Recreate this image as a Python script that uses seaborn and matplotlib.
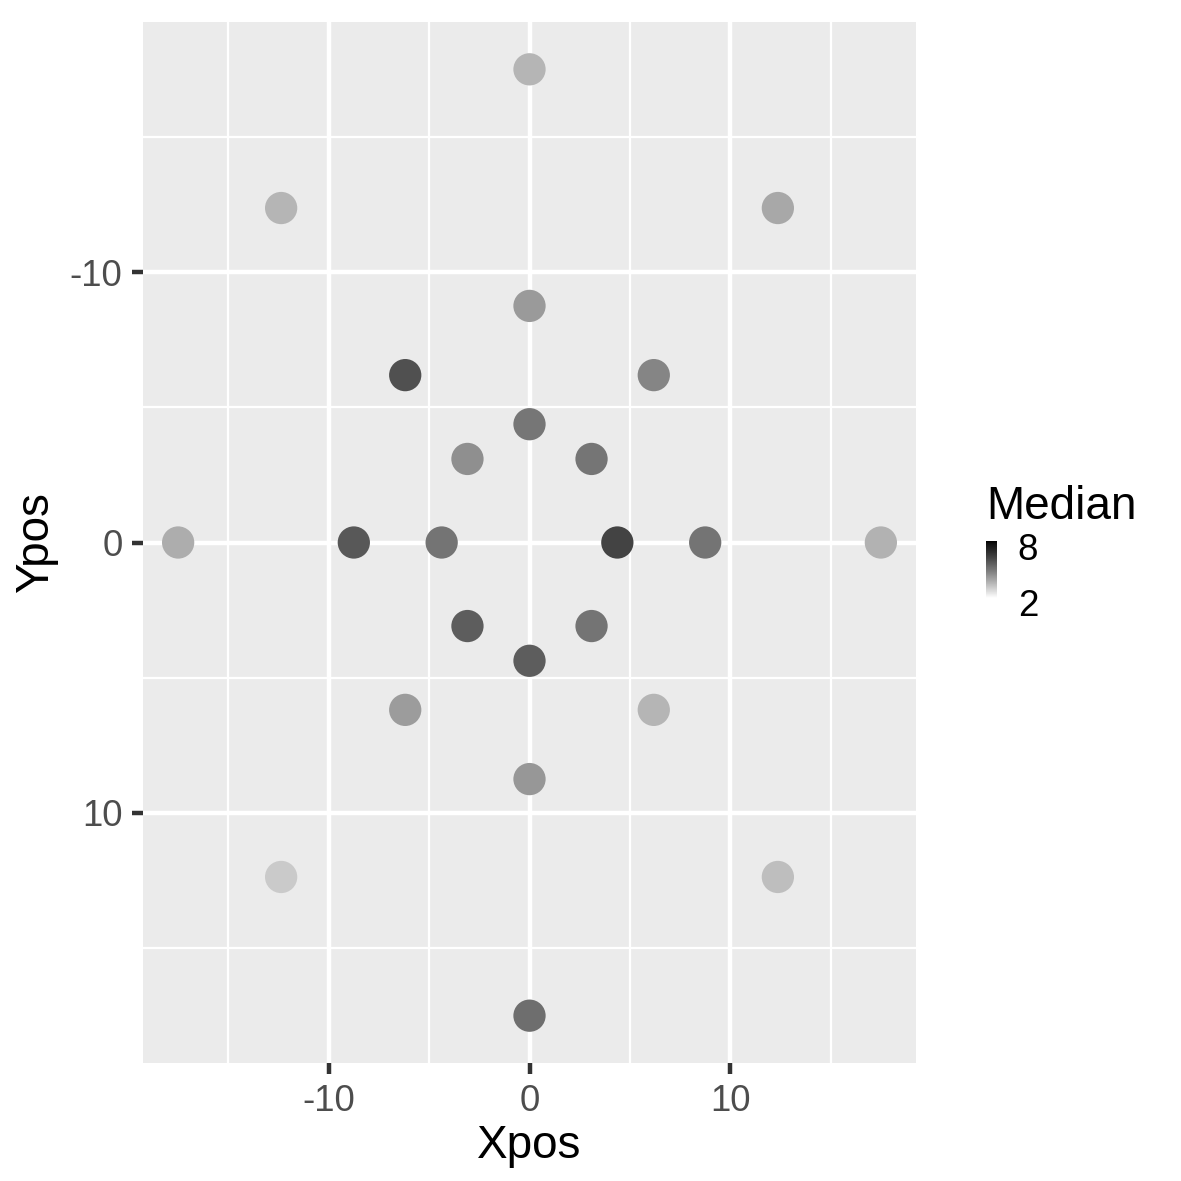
import numpy as np
import pandas as pd
import matplotlib
matplotlib.use('Agg')
import matplotlib.pyplot as plt
from matplotlib.colors import ListedColormap, Normalize
from matplotlib.cm import ScalarMappable
from matplotlib.ticker import FixedLocator
from matplotlib.transforms import ScaledTranslation
import seaborn as sns

# ── Data ─────────────────────────────────────────────────────────────────────
xpos = [0.0, 3.09, 4.375, 3.09, 0.0, -3.09, -4.375, -3.09,
        0.0, 6.19, 8.75, 6.19, 0.0, -6.19, -8.75, -6.19,
        0.0, 12.37, 17.5, 12.37, 0.0, -12.37, -17.5, -12.37]
ypos = [-4.375, -3.09, 0.0, 3.09, 4.375, 3.09, 0.0, -3.09,
        -8.75, -6.19, 0.0, 6.19, 8.75, 6.19, 0.0, -6.19,
        -17.5, -12.37, 0.0, 12.37, 17.5, 12.37, 0.0, -12.37]
median = [5.00, 5.03, 6.27, 5.07, 5.63, 5.63, 5.07, 4.44,
          4.18, 4.66, 5.07, 3.58, 4.27, 4.14, 5.76, 5.96,
          3.58, 3.87, 3.65, 3.40, 5.22, 3.14, 3.76, 3.58]
x_breaks = [-10, 0, 10]
y_breaks = [-10, 0, 10]
minor_breaks = [-15, -5, 5, 15]
legend_breaks = [2, 8]

df = pd.DataFrame({'Xpos': xpos, 'Ypos': ypos, 'Median': median})

# ── white -> black gradient interpolated in Lab (like ggplot) ────────────────
L = np.linspace(100, 0, 256)
Y = np.where(L > 8, ((L + 16) / 116) ** 3, L / 903.3)
g = np.where(Y > 0.0031308, 1.055 * Y ** (1 / 2.4) - 0.055, 12.92 * Y)
g = np.clip(g, 0, 1)
cmap = ListedColormap(np.column_stack([g, g, g]))
norm = Normalize(2, 8)

# ── Plot ─────────────────────────────────────────────────────────────────────
sns.set_style('darkgrid', {'axes.facecolor': '#EBEBEB', 'grid.color': 'white'})
plt.rcParams['font.family'] = ['Liberation Sans', 'DejaVu Sans']
plt.rcParams['axes.unicode_minus'] = False

W, H = 1181, 1181
fig = plt.figure(figsize=(W / 300, H / 300), dpi=300)
ax = fig.add_axes([143 / W, 1 - 1063 / H, (916 - 143) / W, (1063 - 22) / H])

sns.scatterplot(data=df, x='Xpos', y='Ypos', hue='Median', palette=cmap,
                hue_norm=norm, s=60, linewidth=0, legend=False, ax=ax, zorder=3)

ax.set_xlim(-19.25, 19.25)
ax.set_ylim(19.25, -19.25)
ax.xaxis.set_major_locator(FixedLocator(x_breaks))
ax.yaxis.set_major_locator(FixedLocator(y_breaks))
ax.xaxis.set_minor_locator(FixedLocator(minor_breaks))
ax.yaxis.set_minor_locator(FixedLocator(minor_breaks))
ax.grid(which='major', color='white', linewidth=1.07)
ax.grid(which='minor', color='white', linewidth=0.53)
ax.set_axisbelow(True)
for s in ax.spines.values():
    s.set_visible(False)
ax.tick_params(which='major', bottom=True, left=True, length=2.75, width=1.07,
               color='#333333', labelsize=8.8, labelcolor='#4D4D4D', pad=2.2)
ax.tick_params(which='minor', bottom=False, left=False, length=0)
ax.set_xlabel('')
ax.set_ylabel('')
fig.text(529 / W, 1 - 1158 / H, 'Xpos', fontsize=11, color='black',
         ha='center', va='baseline')
fig.text(58 / W, 1 - 543 / H, 'Ypos', fontsize=11, color='black',
         ha='right', va='center', rotation=90)

# ── Colourbar legend ─────────────────────────────────────────────────────────
cax = fig.add_axes([986 / W, 1 - 598 / H, 11 / W, 57 / H])
cb = fig.colorbar(ScalarMappable(norm=norm, cmap=cmap), cax=cax)
cb.outline.set_visible(False)
cb.set_ticks(legend_breaks)
cax.tick_params(length=0, labelsize=8.8, labelcolor='black', pad=5)
shift = ScaledTranslation(0, -5 / 300, fig.dpi_scale_trans)
for lab in cax.get_yticklabels():
    lab.set_transform(lab.get_transform() + shift)
fig.text(986 / W, 1 - 519 / H, 'Median', fontsize=11, color='black',
         ha='left', va='baseline')

fig.savefig('out.png', dpi=300, facecolor='white')
